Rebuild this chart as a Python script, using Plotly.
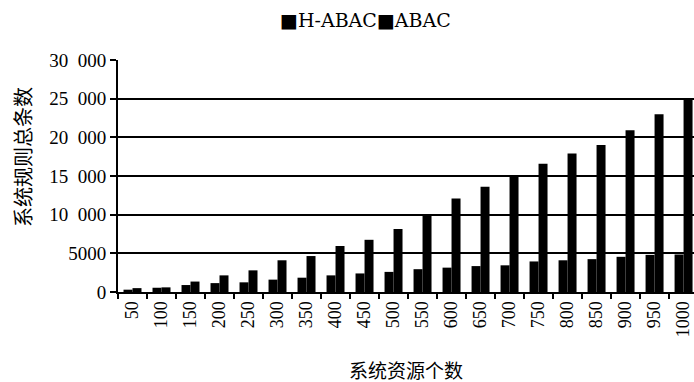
import plotly.graph_objects as go

categories = ["50", "100", "150", "200", "250", "300", "350", "400", "450", "500",
              "550", "600", "650", "700", "750", "800", "850", "900", "950", "1000"]
h_abac = [300, 550, 900, 1150, 1250, 1600, 1850, 2150, 2400, 2600,
          2950, 3150, 3350, 3450, 3950, 4100, 4250, 4550, 4800, 4850]
abac = [500, 600, 1350, 2150, 2800, 4100, 4650, 5950, 6750, 8150,
        10000, 12100, 13600, 15000, 16600, 17900, 19000, 20900, 23000, 25000]
y_ticks = [0, 5000, 10000, 15000, 20000, 25000, 30000]
y_ticktext = ["0", "5000", "10\u2002000", "15\u2002000", "20\u2002000", "25\u2002000", "30\u2002000"]

serif = "Times New Roman"
serif2 = "DejaVu Serif"
cjk = "Noto Sans CJK SC"

fig = go.Figure()
fig.add_trace(go.Bar(x=categories, y=h_abac, name="H-ABAC", marker_color="black",
                     marker_line_width=0))
fig.add_trace(go.Bar(x=categories, y=abac, name="ABAC", marker_color="black",
                     marker_line_width=0))

W, H = 694, 382
L, R, T, B = 118, 0, 60, 90
pw, ph = W - L - R, H - T - B

def px(x):
    return (x - L) / pw

def py(y):
    return (H - B - y) / ph

fig.update_layout(
    width=W, height=H,
    margin=dict(l=L, r=R, t=T, b=B, pad=0),
    paper_bgcolor="white", plot_bgcolor="white",
    barmode="group", bargap=0.38, bargroupgap=0,
    showlegend=False,
    font=dict(family=serif, color="black"),
    xaxis=dict(
        type="category",
        range=[-0.5, 19.36],
        tickangle=-90,
        tickfont=dict(family=serif, size=18, color="black"),
        ticks="outside", ticklen=5, tickwidth=1.5, tickcolor="black",
        tickson="boundaries",
        showline=True, linecolor="black", linewidth=2,
        showgrid=False,
    ),
    yaxis=dict(
        range=[0, 30000],
        tickvals=y_ticks, ticktext=y_ticktext,
        tickfont=dict(family=serif, size=19, color="black"),
        ticks="outside", ticklen=6, tickwidth=1.5, tickcolor="black",
        showline=True, linecolor="black", linewidth=2,
        showgrid=True, gridcolor="black", gridwidth=1.5,
        zeroline=False,
    ),
    annotations=[
        dict(text="系统规则总条数", x=px(22), y=py(157), xref="paper", yref="paper",
             textangle=-90, showarrow=False, xanchor="center", yanchor="middle",
             font=dict(family=cjk, size=20, color="black")),
        dict(text="系统资源个数", x=px(406), y=py(369), xref="paper", yref="paper",
             showarrow=False, xanchor="center", yanchor="middle",
             font=dict(family=cjk, size=19, color="black")),
        dict(text="■H-ABAC■ABAC", x=px(365), y=py(20), xref="paper", yref="paper",
             showarrow=False, xanchor="center", yanchor="middle",
             font=dict(family=serif2, size=19, color="black")),
    ],
)

fig.write_html("out.html")
